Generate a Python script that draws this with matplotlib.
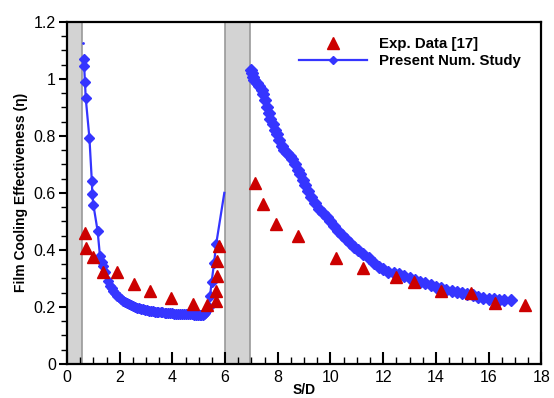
import matplotlib.pyplot as plt
from matplotlib.ticker import MultipleLocator, FuncFormatter

plt.rcParams['font.family'] = ['Liberation Sans', 'DejaVu Sans']

# Experimental data [17]
exp_x = [0.68, 0.72, 1.0, 1.38, 1.89, 2.54, 3.15, 3.94, 4.77, 5.3,
         5.66, 5.66, 5.71, 5.71, 5.77,
         7.14, 7.43, 7.94, 8.77, 10.2, 11.25, 12.48, 13.18, 14.19, 15.34, 16.26, 17.4]
exp_y = [0.459, 0.406, 0.374, 0.324, 0.324, 0.281, 0.257, 0.233, 0.21, 0.206,
         0.222, 0.257, 0.309, 0.362, 0.415,
         0.633, 0.561, 0.49, 0.45, 0.371, 0.335, 0.304, 0.289, 0.257, 0.248, 0.215, 0.206]

# Present numerical study, upstream of the second slot
num1_x = [0.64, 0.65, 0.68, 0.71, 0.85, 0.94, 0.96, 1.0, 1.16, 1.25, 1.32, 1.36, 1.44,
          1.55, 1.63, 1.7, 1.75, 1.82, 1.9, 1.97, 2.05, 2.12, 2.2, 2.27, 2.35, 2.42,
          2.5, 2.57, 2.65, 2.72, 2.8, 2.87, 2.95, 3.02, 3.1, 3.17, 3.25, 3.32, 3.4,
          3.47, 3.55, 3.62, 3.7, 3.77, 3.85, 3.92, 4.0, 4.07, 4.15, 4.22, 4.3, 4.37,
          4.45, 4.52, 4.6, 4.67, 4.75, 4.82, 4.9, 4.97, 5.05, 5.1, 5.15, 5.2, 5.25,
          5.32, 5.37, 5.43, 5.49, 5.58, 5.66, 5.97]
num1_y = [1.07, 1.046, 0.988, 0.932, 0.792, 0.643, 0.596, 0.558, 0.467, 0.379, 0.359,
          0.345, 0.324, 0.29, 0.274, 0.265, 0.257, 0.248, 0.24, 0.234, 0.228, 0.222,
          0.217, 0.213, 0.209, 0.206, 0.203, 0.2, 0.198, 0.196, 0.194, 0.192, 0.19,
          0.188, 0.187, 0.186, 0.185, 0.184, 0.183, 0.182, 0.181, 0.181, 0.18, 0.179,
          0.179, 0.178, 0.178, 0.177, 0.177, 0.176, 0.176, 0.175, 0.175, 0.175, 0.174,
          0.174, 0.174, 0.173, 0.173, 0.172, 0.172, 0.171, 0.171, 0.174, 0.178, 0.19,
          0.201, 0.24, 0.289, 0.353, 0.42, 0.6]

# Present numerical study, downstream of the second slot
num2_x = [6.98, 7.01, 7.05, 7.1, 7.2, 7.3, 7.39, 7.45, 7.52, 7.6, 7.65, 7.72, 7.8, 7.9,
          7.96, 8.05, 8.15, 8.25, 8.35, 8.45, 8.55, 8.65, 8.75, 8.85, 8.95, 9.05, 9.15,
          9.25, 9.4, 9.55, 9.7, 9.85, 10.0, 10.15, 10.3, 10.45, 10.6, 10.75, 10.9,
          11.05, 11.25, 11.45, 11.65, 11.85, 12.0, 12.2, 12.4, 12.6, 12.8, 13.0, 13.2,
          13.4, 13.6, 13.8, 14.0, 14.2, 14.4, 14.6, 14.8, 15.0, 15.2, 15.4, 15.6, 15.8,
          16.0, 16.2, 16.4, 16.6, 16.85]
num2_y = [1.03, 1.02, 1.005, 0.995, 0.985, 0.975, 0.962, 0.945, 0.926, 0.9, 0.88, 0.86,
          0.84, 0.82, 0.805, 0.785, 0.765, 0.75, 0.74, 0.73, 0.72, 0.7, 0.68, 0.665,
          0.645, 0.628, 0.605, 0.585, 0.565, 0.545, 0.53, 0.515, 0.5, 0.485, 0.468,
          0.452, 0.438, 0.423, 0.41, 0.398, 0.386, 0.37, 0.354, 0.34, 0.333, 0.322,
          0.318, 0.316, 0.308, 0.3, 0.294, 0.289, 0.283, 0.277, 0.271, 0.265, 0.26,
          0.257, 0.253, 0.25, 0.246, 0.241, 0.236, 0.232, 0.229, 0.228, 0.226, 0.226,
          0.226]

# slot (hole) regions shaded grey
slots = [(0.0, 0.57), (5.98, 6.96)]

fig = plt.figure(figsize=(5.54, 3.98), dpi=100)
ax = fig.add_axes([0.121, 0.0854, 0.856, 0.86])

for x0, x1 in slots:
    ax.axvspan(x0, x1, facecolor='#d3d3d3', edgecolor='#999999', linewidth=1.2, zorder=1)

blue = '#3535ff'
ax.plot(num1_x, num1_y, '-D', color=blue, lw=1.6, ms=5.5, zorder=3,
        markevery=list(range(len(num1_x) - 1)))
ax.plot([0.62], [1.127], '.', color=blue, ms=2, zorder=3)
ax.plot(num2_x, num2_y, '-D', color=blue, lw=2.5, ms=6, zorder=3)
# legend proxy for the numerical line
num_handle, = ax.plot([], [], '-D', color=blue, lw=1.6, ms=4)
exp_handle, = ax.plot(exp_x, exp_y, '^', color='#cc0000', ms=8.5, ls='none', zorder=4)

ax.set_xlim(0, 18)
ax.set_ylim(0, 1.2)
ax.xaxis.set_major_locator(MultipleLocator(2))
ax.xaxis.set_minor_locator(MultipleLocator(0.5))
ax.yaxis.set_major_locator(MultipleLocator(0.2))
ax.yaxis.set_minor_locator(MultipleLocator(0.05))
ax.yaxis.set_major_formatter(FuncFormatter(lambda v, p: f'{v:g}'))

ax.tick_params(axis='x', which='major', direction='in', length=9, width=1.5,
               labelsize=11.5, pad=4)
ax.tick_params(axis='x', which='minor', direction='in', length=5, width=1)
ax.tick_params(axis='y', which='major', direction='out', length=6, width=1.5,
               labelsize=11.5, pad=2)
ax.tick_params(axis='y', which='minor', direction='out', length=4, width=1)
for s in ax.spines.values():
    s.set_linewidth(1.6)

ax.set_xlabel('S/D', fontsize=10, fontweight='bold', labelpad=-1)
ax.set_ylabel('Film Cooling Effectiveness (η)', fontsize=10, fontweight='bold',
              labelpad=4)

ax.legend([exp_handle, num_handle], ['Exp. Data [17]', 'Present Num. Study'],
          loc='upper right', bbox_to_anchor=(0.985, 0.995), frameon=False,
          handlelength=4.5, prop={'weight': 'bold', 'size': 10.8},
          labelspacing=0.2, handletextpad=0.8)

fig.savefig('out.png', dpi=100)
